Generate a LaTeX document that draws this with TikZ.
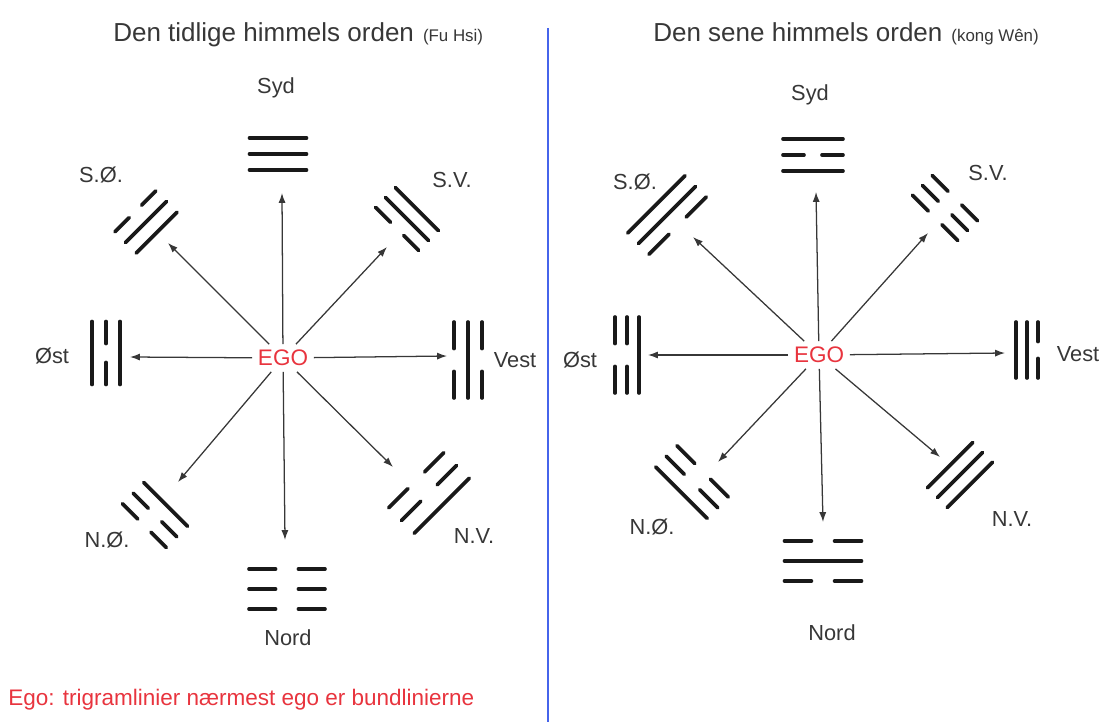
\documentclass[tikz,border=0pt]{standalone}
\usepackage{fontspec}
\setmainfont{Liberation Sans}
\usetikzlibrary{arrows.meta}

\definecolor{egored}{RGB}{232,52,62}
\definecolor{labelgray}{RGB}{55,55,55}
\definecolor{divblue}{RGB}{70,100,235}

% one line of a trigram: y, length, solid (1) or broken (0)
\newcommand{\yaoline}[3]{%
  \ifnum#3=1
    \draw[yao] ({-#2/2},#1) -- ({#2/2},#1);
  \else
    \draw[yao] ({-#2/2},#1) -- ({-#2*0.15},#1);
    \draw[yao] ({#2*0.15},#1) -- ({#2/2},#1);
  \fi}

% centre, rotation, length, spacing, inner, middle, outer
\newcommand{\trigram}[7]{%
  \begin{scope}[shift={#1}, rotate=#2]
    \yaoline{-#4}{#3}{#5}
    \yaoline{0}{#3}{#6}
    \yaoline{#4}{#3}{#7}
  \end{scope}}

\begin{document}
\begin{tikzpicture}[x=0.025cm, y=0.025cm,
    yao/.style={line width=2.6pt, line cap=round, black!90},
    pil/.style={-{Latex[length=7pt,width=5pt]}, line width=0.9pt, labelgray},
    lbl/.style={text=labelgray, font=\fontsize{15.5}{18}\selectfont},
    ego/.style={text=egored, inner sep=4pt, font=\fontsize{16}{18}\selectfont}]
    \useasboundingbox (0,0) rectangle (1104,-722);

    % titles and divider
    \node (titelL) at (113,-42) [anchor=base west, text=labelgray, font=\fontsize{18.5}{20}\selectfont, inner sep=0pt] {Den tidlige himmels orden};
    \node (fuhsi) at (titelL.base east) [anchor=base west, text=labelgray, font=\fontsize{12}{13}\selectfont, inner sep=0pt, xshift=6pt] {(Fu Hsi)};
    \node (titelR) at (653,-42) [anchor=base west, text=labelgray, font=\fontsize{18.5}{20}\selectfont, inner sep=0pt] {Den sene himmels orden};
    \node (kongwen) at (titelR.base east) [anchor=base west, text=labelgray, font=\fontsize{12}{13}\selectfont, inner sep=0pt, xshift=6pt] {(kong Wên)};
    \coordinate (skilTop) at (548,-28);
    \coordinate (skilBund) at (548,-722);
    \draw[divblue, line width=2pt] (skilTop) -- (skilBund);

    % Fu Hsi
    \node (egoL) at (283,-358) [ego] {EGO};
    \trigram{(278,-154)}{0}{57}{16}{1}{1}{1}
    \trigram{(287,-589)}{180}{76}{20}{0}{0}{0}
    \trigram{(106,-353)}{90}{63}{14}{1}{0}{1}
    \trigram{(468,-360)}{-90}{76}{14}{0}{1}{0}
    \trigram{(146,-222)}{45}{58}{15}{1}{1}{0}
    \trigram{(407,-219)}{-45}{61}{14}{0}{1}{1}
    \trigram{(155,-515)}{135}{62}{15}{1}{0}{0}
    \trigram{(429,-493)}{225}{78}{18}{0}{0}{1}
    \coordinate (sydL) at (282,-193);
    \coordinate (nordL) at (285,-540);
    \coordinate (oestL) at (130,-357);
    \coordinate (vestL) at (447,-356);
    \coordinate (soL) at (168,-243);
    \coordinate (svL) at (387,-247);
    \coordinate (noL) at (178,-482);
    \coordinate (nvL) at (393,-467);
    \foreach \t in {sydL,nordL,oestL,vestL,soL,svL,noL,nvL}
        \draw[pil] (egoL) -- (\t);
    \node[lbl] (sydLabL) at (276,-88) {Syd};
    \node[lbl] (nordLabL) at (288,-638) {Nord};
    \node[lbl] (oestLabL) at (52,-356) {Øst};
    \node[lbl] (vestLabL) at (515,-360) {Vest};
    \node[lbl] (soLabL) at (101,-175) {S.Ø.};
    \node[lbl] (svLabL) at (452,-180) {S.V.};
    \node[lbl] (noLabL) at (107,-540) {N.Ø.};
    \node[lbl] (nvLabL) at (474,-536) {N.V.};

    % kong Wen
    \node (egoR) at (819,-355) [ego] {EGO};
    \trigram{(813,-155)}{0}{60}{16}{1}{0}{1}
    \trigram{(823,-561)}{180}{77}{20}{0}{1}{0}
    \trigram{(627,-355)}{90}{76}{12}{1}{0}{0}
    \trigram{(1027,-350)}{-90}{56}{11}{1}{1}{0}
    \trigram{(667,-215)}{45}{81}{15}{0}{1}{1}
    \trigram{(945,-208)}{-45}{64}{14}{0}{0}{0}
    \trigram{(692,-482)}{135}{73}{15}{0}{0}{1}
    \trigram{(960,-475)}{225}{64}{14}{1}{1}{1}
    \coordinate (sydR) at (816,-192);
    \coordinate (nordR) at (823,-522);
    \coordinate (oestR) at (648,-355);
    \coordinate (vestR) at (1005,-353);
    \coordinate (soR) at (693,-237);
    \coordinate (svR) at (928,-233);
    \coordinate (noR) at (718,-462);
    \coordinate (nvR) at (940,-457);
    \foreach \t in {sydR,nordR,oestR,vestR,soR,svR,noR,nvR}
        \draw[pil] (egoR) -- (\t);
    \node[lbl] (sydLabR) at (810,-95) {Syd};
    \node[lbl] (nordLabR) at (832,-633) {Nord};
    \node[lbl] (oestLabR) at (580,-360) {Øst};
    \node[lbl] (vestLabR) at (1078,-354) {Vest};
    \node[lbl] (soLabR) at (635,-182) {S.Ø.};
    \node[lbl] (svLabR) at (988,-173) {S.V.};
    \node[lbl] (noLabR) at (652,-527) {N.Ø.};
    \node[lbl] (nvLabR) at (1012,-519) {N.V.};

    \node (note) at (8,-705) [anchor=base west, text=egored, inner sep=0pt, font=\fontsize{16}{18}\selectfont] {Ego: trigramlinier nærmest ego er bundlinierne};
\end{tikzpicture}
\end{document}
